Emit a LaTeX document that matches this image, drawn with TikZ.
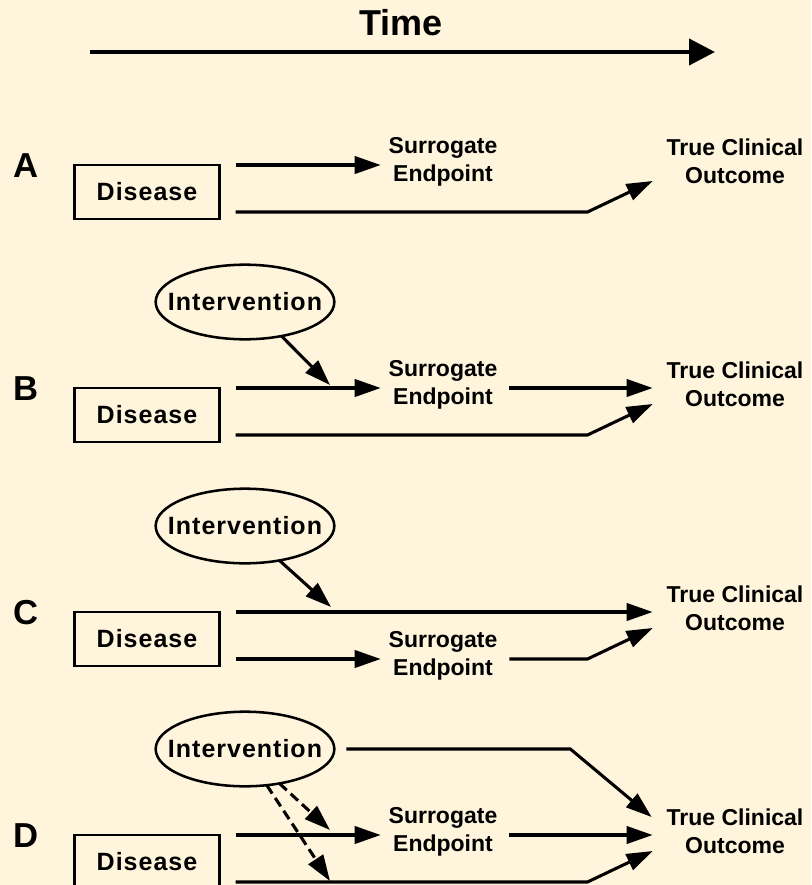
\documentclass[tikz,border=0pt]{standalone}
\usepackage{fontspec}
\setmainfont{Liberation Sans}
\newfontfamily\spacedfont[LetterSpace=4]{Liberation Sans}
\usetikzlibrary{arrows.meta,shapes.geometric,calc}

\definecolor{paper}{HTML}{FFF5DC}

\newcommand{\timefont}{\fontsize{27}{32}\selectfont\bfseries}
\newcommand{\panelfont}{\fontsize{26}{30}\selectfont\bfseries}
\newcommand{\boxfont}{\spacedfont\fontsize{18.75}{22}\selectfont\bfseries}
\newcommand{\lblfont}{\fontsize{17.25}{21}\selectfont\bfseries}

\tikzset{
  lbl/.style={font=\lblfont, align=center, inner sep=0pt, outer sep=0pt},
  diseasebox/.style={draw, line width=2.2pt, minimum width=108.75pt,
    minimum height=40.5pt, inner sep=0pt, outer sep=0pt, font=\boxfont},
  % ellipse sized to about 180 x 74 px around the word
  oval/.style={ellipse, draw, line width=1.9pt, inner xsep=-10.4pt,
    inner ysep=12.9pt, outer sep=0pt, font=\boxfont},
  panellbl/.style={font=\panelfont, inner sep=0pt},
  conn/.style={line width=2.3pt, -{Triangle[length=19.5pt,width=13pt]}},
  dashconn/.style={conn, dash pattern=on 7.5pt off 4pt},
  timearrow/.style={line width=3pt, -{Triangle[length=19.5pt,width=19.5pt]}}
}

\begin{document}
\begin{tikzpicture}[x=0.75pt, y=-0.75pt]
  \path[use as bounding box, fill=paper] (0,0) rectangle (811,885);
  \clip (0,0) rectangle (811,885);

  % time axis
  \node[font=\timefont, inner sep=0pt] (time) at (401,23) {Time};
  \coordinate (t0) at (90,52);
  \coordinate (t1) at (715,52);
  \draw[timearrow] (t0) -- (t1);

  % ---- A ----
  \begin{scope}
    \node[panellbl] (labA) at (26,166) {A};
    \node[diseasebox] (disA) at (147,192) {Disease};
    \node[lbl] (surA) at (443,162) {Surrogate\\Endpoint};
    \node[lbl] (truA) at (735,161) {True Clinical\\Outcome};
    \draw[conn] ($(disA.north east)+(16,0)$) -- ($(surA.west |- disA.north east)+(-8,0)$);
    \draw[conn] ($(disA.south east)+(16,-7)$) -- ($(disA.south east)+(368,-7)$)
      -- ($(truA.west)+(-14,20)$);
  \end{scope}

  % ---- B ----
  \begin{scope}[shift={(0,223)}]
    \node[panellbl] (labB) at (26,166) {B};
    \node[oval] (intB) at (245,79) {Intervention};
    \node[diseasebox] (disB) at (147,192) {Disease};
    \node[lbl] (surB) at (443,162) {Surrogate\\Endpoint};
    \node[lbl] (truB) at (735,161) {True Clinical\\Outcome};
    \coordinate (hitB) at (330,162);
    \draw[conn] ($(disB.north east)+(16,0)$) -- ($(surB.west |- disB.north east)+(-8,0)$);
    \draw[conn] ($(surB.east |- disB.north east)+(12,0)$) -- ($(truB.west |- disB.north east)+(-14,0)$);
    \draw[conn] ($(disB.south east)+(16,-7)$) -- ($(disB.south east)+(368,-7)$)
      -- ($(truB.west)+(-14,20)$);
    \draw[conn] (intB.-43) -- (hitB);
  \end{scope}

  % ---- C ----
  \begin{scope}[shift={(0,447)}]
    \node[panellbl] (labC) at (26,166) {C};
    \node[oval] (intC) at (245,79) {Intervention};
    \node[diseasebox] (disC) at (147,192) {Disease};
    \node[lbl] (surC) at (443,209) {Surrogate\\Endpoint};
    \node[lbl] (truC) at (735,161) {True Clinical\\Outcome};
    \coordinate (hitC) at (331,160);
    \draw[conn] ($(disC.north east)+(16,0)$) -- ($(truC.west |- disC.north east)+(-14,0)$);
    \draw[conn] ($(disC.south east)+(16,-7)$) -- ($(surC.west)+(-8,3)$);
    \draw[conn] ($(surC.east)+(12,3)$) -- ($(disC.south east)+(368,-7)$)
      -- ($(truC.west)+(-14,20)$);
    \draw[conn] (intC.-45) -- (hitC);
  \end{scope}

  % ---- D ----
  \begin{scope}[shift={(0,670)}]
    \node[panellbl] (labD) at (26,166) {D};
    \node[oval] (intD) at (245,79) {Intervention};
    \node[diseasebox] (disD) at (147,192) {Disease};
    \node[lbl] (surD) at (443,162) {Surrogate\\Endpoint};
    \node[lbl] (truD) at (735,161) {True Clinical\\Outcome};
    \coordinate (hitD1) at (330,160);
    \coordinate (hitD2) at (330,211);
    \draw[conn] ($(intD.east)+(12,0)$) -- ($(intD.east)+(236,0)$)
      -- ($(truD.west)+(-15,-14)$);
    \draw[conn] ($(disD.north east)+(16,0)$) -- ($(surD.west |- disD.north east)+(-8,0)$);
    \draw[conn] ($(surD.east |- disD.north east)+(12,0)$) -- ($(truD.west |- disD.north east)+(-14,0)$);
    \draw[conn] ($(disD.south east)+(16,-7)$) -- ($(disD.south east)+(368,-7)$)
      -- ($(truD.west)+(-14,20)$);
    \draw[dashconn] (intD.-45) -- (hitD1);
    \draw[dashconn] (intD.-59) -- (hitD2);
  \end{scope}
\end{tikzpicture}
\end{document}
